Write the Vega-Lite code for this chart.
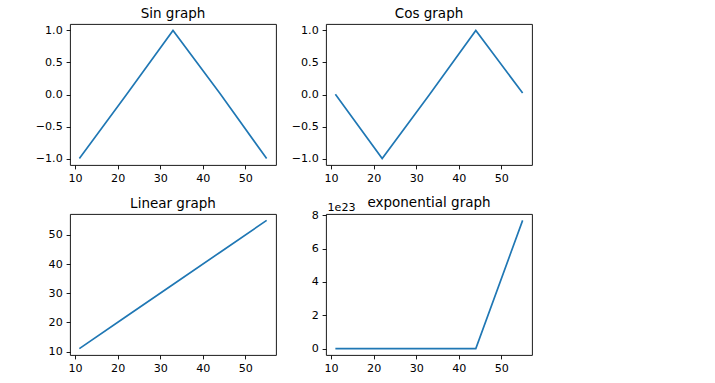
{
  "$schema": "https://vega.github.io/schema/vega-lite/v6.json",
  "padding": {"left": 31, "top": 6, "right": 0, "bottom": 0},
  "background": "white",
  "data": {"values": [
    {"x": 11, "sin": -0.99999021, "cos": 0.00442570, "lin": 11, "exp": 59874.14},
    {"x": 22, "sin": -0.00885131, "cos": -0.99996083, "lin": 22, "exp": 3584912846.13},
    {"x": 33, "sin": 0.99991186, "cos": -0.01327675, "lin": 33, "exp": 2.146436e14},
    {"x": 44, "sin": 0.01770193, "cos": 0.99984331, "lin": 44, "exp": 1.285160e19},
    {"x": 55, "sin": -0.99975517, "cos": 0.02212676, "lin": 55, "exp": 7.694785e23}
  ]},
  "columns": 2,
  "spacing": {"column": 10, "row": 9},
  "concat": [
    {
      "title": "Sin graph",
      "width": 206, "height": 141,
      "mark": {"type": "line", "color": "#1f77b4", "strokeWidth": 1.67},
      "encoding": {
        "x": {"field": "x", "type": "quantitative", "scale": {"domain": [8.8, 57.2], "nice": false, "zero": false}, "axis": {"values": [10, 20, 30, 40, 50], "format": "d"}},
        "y": {"field": "sin", "type": "quantitative", "scale": {"domain": [-1.1, 1.1], "nice": false, "zero": false}, "axis": {"values": [-1, -0.5, 0, 0.5, 1], "format": ".1f"}}
      }
    },
    {
      "title": "Cos graph",
      "width": 206, "height": 141,
      "mark": {"type": "line", "color": "#1f77b4", "strokeWidth": 1.67},
      "encoding": {
        "x": {"field": "x", "type": "quantitative", "scale": {"domain": [8.8, 57.2], "nice": false, "zero": false}, "axis": {"values": [10, 20, 30, 40, 50], "format": "d"}},
        "y": {"field": "cos", "type": "quantitative", "scale": {"domain": [-1.1, 1.1], "nice": false, "zero": false}, "axis": {"values": [-1, -0.5, 0, 0.5, 1], "format": ".1f"}}
      }
    },
    {
      "title": "Linear graph",
      "width": 206, "height": 141,
      "mark": {"type": "line", "color": "#1f77b4", "strokeWidth": 1.67},
      "encoding": {
        "x": {"field": "x", "type": "quantitative", "scale": {"domain": [8.8, 57.2], "nice": false, "zero": false}, "axis": {"values": [10, 20, 30, 40, 50], "format": "d"}},
        "y": {"field": "lin", "type": "quantitative", "scale": {"domain": [8.8, 57.2], "nice": false, "zero": false}, "axis": {"values": [10, 20, 30, 40, 50], "format": "d"}}
      }
    },
    {
      "title": {"text": "exponential graph", "offset": -8},
      "width": 206, "height": 141,
      "mark": {"type": "line", "color": "#1f77b4", "strokeWidth": 1.67},
      "encoding": {
        "x": {"field": "x", "type": "quantitative", "scale": {"domain": [8.8, 57.2], "nice": false, "zero": false}, "axis": {"values": [10, 20, 30, 40, 50], "format": "d"}},
        "y": {"field": "exp", "type": "quantitative", "scale": {"domain": [-3.8474e22, 8.0795e23], "nice": false, "zero": false},
          "axis": {"values": [0, 2e23, 4e23, 6e23, 8e23], "labelExpr": "format(datum.value / 1e23, 'd')",
            "title": "1e23", "titleAngle": 0, "titleX": 1, "titleY": -3.5, "titleAlign": "left", "titleBaseline": "alphabetic",
            "titleFontSize": 11.1, "titleFontWeight": "normal", "titleColor": "black", "titlePadding": 0}}
      }
    }
  ],
  "config": {
    "font": "DejaVu Sans",
    "view": {"stroke": "black", "strokeWidth": 0.9},
    "title": {"fontSize": 13.5, "fontWeight": "normal", "color": "black", "offset": 4, "anchor": "middle"},
    "axis": {
      "grid": false, "domain": false, "title": null,
      "tickColor": "black", "tickSize": 3.9, "tickWidth": 0.9,
      "labelColor": "black", "labelFontSize": 11.1, "labelPadding": 3.9,
      "labelFlush": false, "labelOverlap": false
    },
    "axisY": {"minExtent": 38, "maxExtent": 38},
    "axisX": {"minExtent": 20, "maxExtent": 20}
  }
}
